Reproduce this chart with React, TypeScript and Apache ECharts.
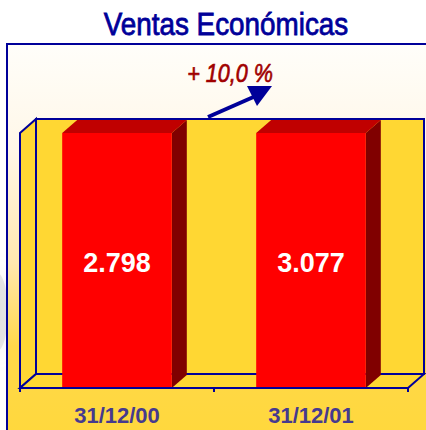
import React, { useEffect, useRef } from "react";
import * as echarts from "echarts";

const titleText = "Ventas Económicas";
const categories = ["31/12/00", "31/12/01"];
const sales = [2798, 3077];
const salesLabels = ["2.798", "3.077"];
const growthLabel = "+ 10,0 %";
// visible ceiling of the value axis (taller bars are cut at it, as in the original)
const axisMax = 2798;

const BLUE = "#000099";
const WALL = "#FFD733";

const GRID_LEFT = 20;
const GRID_RIGHT = 18;
const GRID_TOP = 133;
const GRID_BOTTOM = 42;
const W = 426;
const H = 430;
const WDX = 16;
const WDY = 14;
const BDX = 15;
const BDY = 13;

export default function App() {
  const ref = useRef<HTMLDivElement>(null);
  useEffect(() => {
    if (!ref.current) return;
    const chart = echarts.init(ref.current, undefined, { renderer: "svg" });
    const fl = GRID_LEFT;
    const fr = W - GRID_RIGHT;
    const ft = GRID_TOP;
    const fb = H - GRID_BOTTOM;
    const option: any = {
      animation: false,
      grid: { left: GRID_LEFT, right: GRID_RIGHT, top: GRID_TOP, bottom: GRID_BOTTOM },
      xAxis: {
        type: "category",
        data: categories,
        axisLine: { show: true, lineStyle: { color: BLUE, width: 2 } },
        axisTick: { show: true, length: 4, lineStyle: { color: BLUE, width: 2 } },
        axisLabel: {
          margin: 16,
          color: "#463A8E",
          fontSize: 22,
          fontWeight: "bold",
          fontFamily: "Liberation Sans, Arial, sans-serif",
        },
        z: 5,
      },
      yAxis: { type: "value", min: 0, max: axisMax, show: false },
      graphic: [
        {
          type: "ellipse",
          z: -12,
          shape: { cx: -4, cy: 312, rx: 12, ry: 40 },
          style: {
            fill: "rgba(190,190,190,0.35)",
            shadowBlur: 20,
            shadowColor: "rgba(190,190,190,0.6)",
          },
        },
        {
          type: "rect",
          z: -10,
          shape: { x: 7, y: 44, width: 430, height: 420 },
          style: {
            stroke: BLUE,
            lineWidth: 2,
            fill: new echarts.graphic.LinearGradient(0, 0, 0, 1, [
              { offset: 0, color: "#FFFEFA" },
              { offset: 0.25, color: "#FFF7E8" },
              { offset: 0.52, color: "#FFE8B0" },
              { offset: 0.72, color: "#FFD84A" },
              { offset: 1, color: "#FFD838" },
            ]),
          },
        },
        {
          type: "rect",
          z: -5,
          shape: { x: fl + WDX, y: ft - WDY, width: fr - fl, height: fb - ft },
          style: { fill: WALL, stroke: BLUE, lineWidth: 2 },
        },
        {
          type: "polygon",
          z: -5,
          shape: { points: [[fl, ft], [fl + WDX, ft - WDY], [fl + WDX, fb - WDY], [fl, fb]] },
          style: { fill: WALL, stroke: BLUE, lineWidth: 2 },
        },
        {
          type: "polygon",
          z: -5,
          shape: { points: [[fl, fb], [fl + WDX, fb - WDY], [fr + WDX, fb - WDY], [fr, fb]] },
          style: { fill: WALL, stroke: BLUE, lineWidth: 2 },
        },
        {
          type: "text",
          z: 10,
          x: 226,
          y: 24,
          scaleX: 0.87,
          style: {
            text: titleText,
            fill: BLUE,
            stroke: BLUE,
            lineWidth: 0.8,
            font: '32px "Liberation Sans", Arial, sans-serif',
            align: "center",
            verticalAlign: "middle",
          },
        },
        {
          type: "text",
          z: 10,
          x: 230,
          y: 73,
          scaleX: 0.83,
          style: {
            text: growthLabel,
            fill: "#A00000",
            stroke: "#A00000",
            lineWidth: 0.7,
            font: 'italic 26px "Liberation Sans", Arial, sans-serif',
            align: "center",
            verticalAlign: "middle",
          },
        },
        {
          type: "line",
          z: 10,
          shape: { x1: 208, y1: 117, x2: 258, y2: 95 },
          style: { stroke: BLUE, lineWidth: 4 },
        },
        {
          type: "polygon",
          z: 10,
          shape: { points: [[247, 86], [272, 86], [257, 106]] },
          style: { fill: BLUE },
        },
      ],
      series: [
        {
          type: "custom",
          clip: false,
          z: 2,
          data: sales.map((v, i) => [i, v]),
          encode: { x: 0, y: 1 },
          renderItem: (params: any, api: any) => {
            const idx = api.value(0);
            const v = Math.min(api.value(1), axisMax);
            const base = api.coord([idx, 0]);
            const top = api.coord([idx, v]);
            const bw = api.size([1, 0])[0] * 0.565;
            const x0 = base[0] - bw / 2;
            const x1 = base[0] + bw / 2;
            const yb = base[1];
            const yt = top[1];
            return {
              type: "group",
              children: [
                {
                  type: "polygon",
                  shape: { points: [[x1, yt], [x1 + BDX, yt - BDY], [x1 + BDX, yb - BDY], [x1, yb]] },
                  style: { fill: "#800000" },
                },
                {
                  type: "polygon",
                  shape: { points: [[x0, yt], [x0 + BDX, yt - BDY], [x1 + BDX, yt - BDY], [x1, yt]] },
                  style: { fill: "#C00000" },
                },
                {
                  type: "rect",
                  shape: { x: x0, y: yt, width: bw, height: yb - yt },
                  style: { fill: "#FF0000" },
                },
                {
                  type: "text",
                  x: base[0],
                  y: (yt + yb) / 2 + 2,
                  style: {
                    text: salesLabels[params.dataIndex],
                    fill: "#FFFFFF",
                    font: 'bold 27px "Liberation Sans", Arial, sans-serif',
                    align: "center",
                    verticalAlign: "middle",
                  },
                },
              ],
            };
          },
        },
      ],
    };
    chart.setOption(option);
    return () => chart.dispose();
  }, []);
  return (
    <div
      ref={ref}
      style={{ position: "fixed", left: 0, top: 0, width: W, height: H, background: "#FFFFFF" }}
    />
  );
}
